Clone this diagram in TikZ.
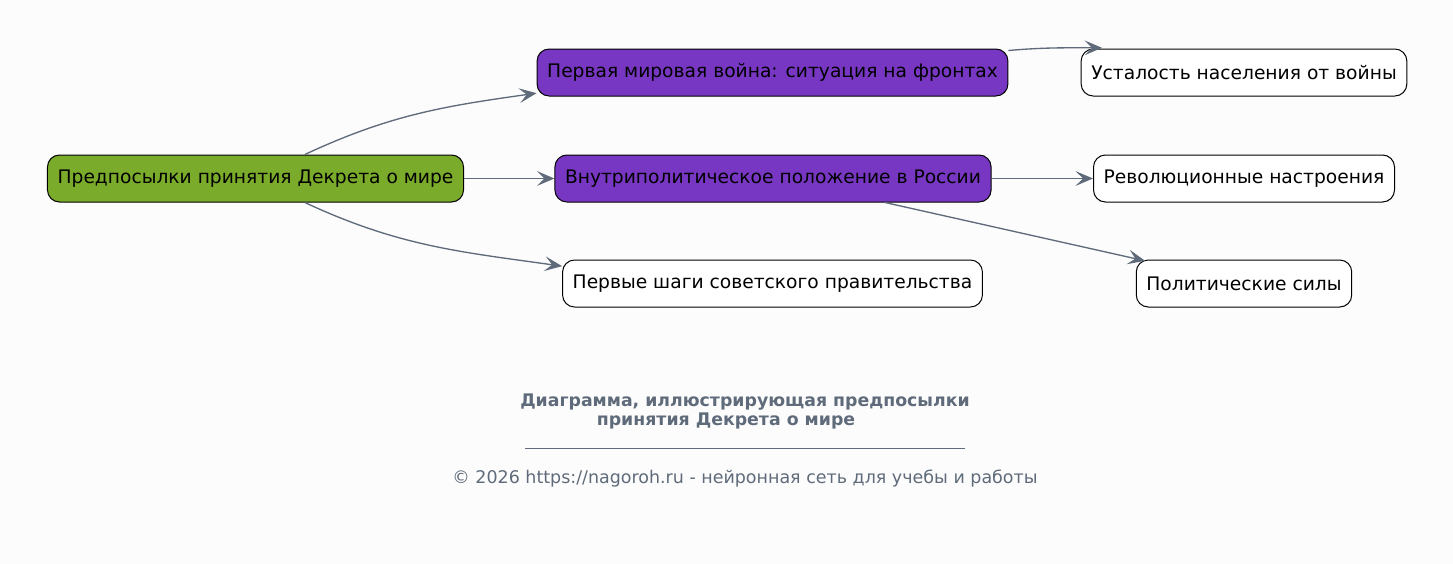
\documentclass[tikz,border=0pt]{standalone}
\usepackage{fontspec}
\setmainfont{DejaVu Sans}
\usetikzlibrary{arrows.meta}
\definecolor{bgcol}{RGB}{252,252,252}
\definecolor{rootgreen}{RGB}{122,171,43}
\definecolor{midpurple}{RGB}{120,55,195}
\definecolor{edgegray}{RGB}{95,107,122}

\begin{document}
\begin{tikzpicture}[x=0.75pt, y=-0.75pt,
    box/.style={draw, line width=0.75pt, rounded corners=9pt, minimum height=35.25pt, inner xsep=7.6pt, font=\fontsize{14}{16}\selectfont},
    edge/.style={draw=edgegray, line width=1pt, -{Stealth[length=13pt, width=11pt, inset=5.5pt]}}]
    \useasboundingbox[fill=bgcol] (0,0) rectangle (1453,564);
    % nodes
    \node[box, fill=rootgreen] (root) at (255.5,178.5) {Предпосылки принятия Декрета о мире};
    \node[box, fill=midpurple] (war) at (772.5,72.5) {Первая мировая война: ситуация на фронтах};
    \node[box, fill=midpurple] (inner) at (773,178.5) {Внутриполитическое положение в России};
    \node[box, fill=white] (steps) at (772.5,283.5) {Первые шаги советского правительства};
    \node[box, fill=white] (tired) at (1244,72.5) {Усталость населения от войны};
    \node[box, fill=white] (revol) at (1244,178.5) {Революционные настроения};
    \node[box, fill=white] (forces) at (1244,283.5) {Политические силы};
    % edges
    \draw[edge] ([xshift=37pt]root.north) to[out=25, in=188] ([yshift=2.5pt]war.south west);
    \draw[edge] (root) -- (inner);
    \draw[edge] ([xshift=37pt]root.south) to[out=-25, in=172] ([yshift=-5pt]steps.north west);
    \draw[edge] ([yshift=-1.5pt]war.north east) to[out=5, in=180] ([xshift=16pt, yshift=0.5pt]tired.north west);
    \draw[edge] (inner) -- (revol);
    \draw[edge] ([xshift=84pt]inner.south) -- ([xshift=7pt, yshift=-1pt]forces.north west);
    % caption
    \node[text=edgegray, font=\bfseries\fontsize{13}{15}\selectfont] (title1) at (745,402) {Диаграмма, иллюстрирующая предпосылки};
    \node[text=edgegray, font=\bfseries\fontsize{13}{15}\selectfont] (title2) at (726,421) {принятия Декрета о мире};
    \node[fill=edgegray, inner sep=0pt, minimum width=330pt, minimum height=0.5pt] (rule) at (745,448) {};
    \node[text=edgegray, font=\fontsize{13.1}{15}\selectfont] (footer) at (745,479) {© 2026 https://nagoroh.ru - нейронная сеть для учебы и работы};
\end{tikzpicture}
\end{document}
